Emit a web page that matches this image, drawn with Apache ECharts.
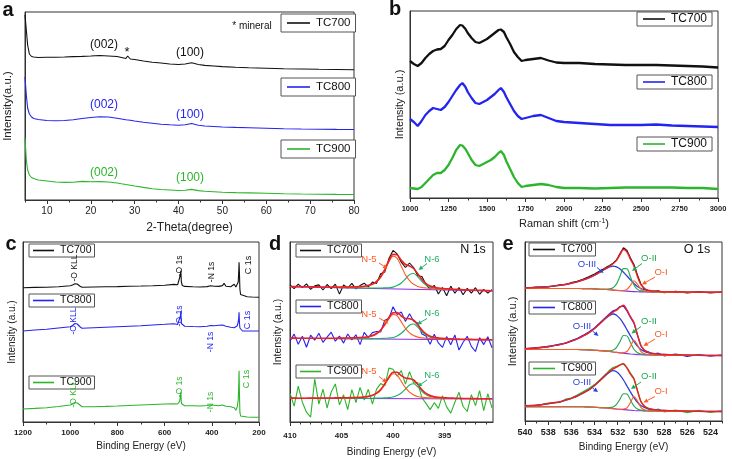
<!DOCTYPE html>
<html><head><meta charset="utf-8">
<script src="https://cdn.jsdelivr.net/npm/echarts@6/dist/echarts.min.js"></script>
<style>html,body{margin:0;padding:0;background:#fff}#c{width:732px;height:459px}</style>
</head><body><div id="c"></div>
<script>
const FONT = '"Liberation Sans", Arial, sans-serif';
const cBlack = '#111111', cBlue = '#2424f0', cGreen = '#2cb52c';
const cFit = '#ee2020', cOrange = '#ff5a1f', cTeal = '#1fae68', cOII = '#1fa84a', cOIII = '#2a3fd6', cBase = '#8a2be2';

// ---------- (a) XRD ----------
const xrdTheta = [5, 5.3, 5.6, 6, 6.5, 7, 8, 10, 12, 14, 16, 18, 20, 22, 24, 26, 27, 28, 28.4, 29, 30, 32, 34, 36, 38, 40, 41.5, 43, 44.5, 46, 48, 50, 53, 56, 60, 64, 68, 72, 76, 80];
const xrdTC700 = [185, 170, 155, 146, 143.5, 143, 142.5, 142.7, 142.8, 143, 143.4, 143.6, 144, 144.5, 144, 143.5, 142.5, 141.5, 144, 141, 140.5, 139, 137.8, 137, 136, 135.5, 136, 137.2, 135.5, 134.6, 134, 133.4, 132.8, 132.3, 131.8, 131.3, 131, 130.7, 130.5, 130.3];
const xrdTC800 = [123, 105, 92, 86, 83, 81.5, 80.5, 79.5, 79.3, 79.5, 80.2, 81.5, 82.5, 83.3, 83, 81.8, 81, 80.2, 80.4, 79.8, 79, 77.8, 76.8, 75.8, 75.2, 74.8, 75.3, 76.5, 74.8, 74, 73.5, 73, 72.6, 72.3, 71.8, 71.3, 71, 70.8, 70.6, 70.5];
const xrdTC900 = [62, 40, 30, 25, 22.5, 21.5, 20, 19, 18, 17.6, 17.8, 18.6, 18.2, 18.4, 18, 17, 16.2, 15.5, 15.3, 14.8, 14, 12.6, 11.3, 10.5, 10, 9.5, 9.8, 10.6, 9.4, 8.8, 8.3, 7.8, 7.4, 7.1, 6.7, 6.3, 6, 5.8, 5.6, 5.5];
const xrdTicks = [10, 20, 30, 40, 50, 60, 70, 80];
const xrdMinor = [5, 15, 25, 35, 45, 55, 65, 75];

// ---------- (b) Raman ----------
const ramanShift = [1000, 1025, 1050, 1075, 1100, 1125, 1150, 1175, 1200, 1225, 1250, 1275, 1300, 1325, 1340, 1360, 1375, 1400, 1425, 1450, 1475, 1500, 1525, 1550, 1575, 1590, 1610, 1625, 1650, 1675, 1700, 1725, 1750, 1800, 1850, 1900, 1950, 2000, 2100, 2200, 2300, 2400, 2500, 2600, 2700, 2800, 2900, 3000];
const ramanTC700 = [137, 134, 132, 135, 140, 144, 147, 148.5, 149, 152, 158, 163, 169, 173, 172.5, 169, 165, 160, 156, 155, 157, 159, 162, 165, 168, 168.5, 166, 161, 154, 146, 141, 137, 138, 139, 140, 137.5, 135.5, 135, 135, 134, 133.5, 133, 133, 133, 132.5, 132, 131.5, 130.5];
const ramanTC800 = [79, 76, 72, 77, 83, 87, 90, 89, 88, 91, 96, 102, 108, 113, 115, 111, 106, 100, 95, 94, 96, 98, 101, 104, 108, 110, 106, 101, 94, 87, 82, 79, 80, 82, 83, 80, 77, 76, 75, 74, 73, 73, 73, 73.5, 72.5, 72, 71.5, 71];
const ramanTC900 = [10, 9.5, 9, 11, 15, 19, 23, 25, 25, 28, 33, 40, 48, 53, 52.5, 49, 45, 38, 33, 32, 34, 36, 38, 41, 45, 47, 43, 37, 29, 21, 15, 11, 12, 13, 14, 13, 11, 10, 10, 9.5, 10, 10.5, 10.5, 10.5, 10.5, 10, 10, 9];
const ramanTicks = [1000, 1250, 1500, 1750, 2000, 2250, 2500, 2750, 3000];
const ramanMinor = [1125, 1375, 1625, 1875, 2125, 2375, 2625, 2875];

// ---------- (c) XPS survey ----------
const surveyBE = [1200, 1150, 1100, 1050, 1000, 990, 980, 975, 970, 960, 950, 900, 850, 800, 750, 700, 650, 600, 560, 545, 537, 533, 531, 529, 525, 515, 480, 450, 420, 405, 400, 390, 370, 355, 348, 340, 320, 305, 298, 292, 288, 286, 284.5, 283, 281, 278, 270, 250, 230, 200];
const surveyTC700 = [134.3, 134.6, 134.8, 135.2, 136.2, 137, 138.3, 139, 138, 136, 134.7, 135, 135.2, 135.4, 135.8, 136, 136.3, 136.7, 137.6, 137.2, 139, 147, 151.5, 140, 136.5, 135.6, 135.2, 135, 135.4, 136.2, 137, 135.8, 135.6, 136.4, 138.6, 135.8, 135.3, 137.7, 135, 134.2, 140, 150, 159.7, 150, 133, 127.5, 126, 125.3, 125, 124.7];
const surveyTC800 = [91, 92, 92.7, 94, 95.3, 96.5, 98.5, 99, 98, 95.5, 93.7, 94.3, 94.8, 95.3, 95.8, 96.3, 97, 97.7, 98.3, 97.5, 99.5, 106, 111, 98.5, 96.5, 95.8, 95.5, 95.3, 95.8, 96.5, 97, 96.2, 96.7, 97, 98.3, 95.7, 94.8, 94.3, 93, 96.3, 100, 104, 109.7, 100, 94, 92, 91, 91, 91, 91];
const surveyTC900 = [13, 13.6, 14.3, 15.5, 17, 18, 19.5, 20.3, 19, 17.2, 15.3, 15.3, 15.6, 16, 16.5, 17, 17.5, 18, 18.3, 18, 20.3, 25, 30.3, 18.5, 17.5, 16.3, 16.2, 16, 16.5, 17, 17.5, 16.8, 16.3, 17, 17.7, 15.8, 15.3, 14.3, 11.7, 15.3, 22, 35, 51.3, 30, 10, 6, 5.5, 5, 4.8, 4.7];
const surveyTicks = [1200, 1000, 800, 600, 400, 200];
const surveyMinor = [1100, 900, 700, 500, 300];

// ---------- (d) N 1s ----------
const n1sBE = [410.0, 409.6, 409.2, 408.8, 408.4, 408.0, 407.6, 407.2, 406.8, 406.4, 406.0, 405.6, 405.2, 404.8, 404.4, 404.0, 403.6, 403.2, 402.8, 402.4, 402.0, 401.6, 401.2, 400.8, 400.4, 400.0, 399.6, 399.2, 398.8, 398.4, 398.0, 397.6, 397.2, 396.8, 396.4, 396.0, 395.6, 395.2, 394.8, 394.4, 394.0, 393.6, 393.2, 392.8, 392.4, 392.0, 391.6, 391.2, 390.8, 390.4];
const n1sRaw700 = [137.0, 133.4, 137.9, 134.3, 138.2, 132.7, 136.1, 137.1, 132.0, 137.5, 133.4, 137.9, 127.9, 137.0, 134.0, 138.6, 133.2, 136.4, 138.8, 135.1, 139.9, 138.6, 148.2, 150.1, 163.4, 171.6, 168.1, 159.8, 154.5, 159.0, 154.5, 146.2, 145.5, 137.4, 133.0, 136.7, 128.0, 134.5, 126.2, 135.9, 128.7, 134.5, 127.2, 133.6, 128.9, 134.3, 127.7, 132.6, 128.9, 132.3];
const n1sFit700 = [135.5, 135.4, 135.4, 135.3, 135.2, 135.2, 135.1, 135.1, 135.0, 135.0, 134.9, 134.9, 134.9, 135.0, 135.0, 135.1, 135.2, 135.4, 135.8, 136.6, 137.9, 140.6, 145.2, 152.6, 161.4, 167.6, 167.1, 161.8, 157.5, 156.0, 153.5, 148.2, 142.5, 138.4, 136.0, 134.7, 134.0, 133.5, 133.2, 132.9, 132.7, 132.5, 132.2, 132.1, 131.9, 131.8, 131.7, 131.6, 131.4, 131.3];
const n1sRaw800 = [80.9, 87.9, 77.8, 85.8, 74.8, 86.8, 81.8, 88.8, 79.7, 84.8, 89.8, 80.8, 85.9, 78.9, 88.0, 82.1, 87.2, 77.4, 89.7, 84.3, 89.4, 90.5, 90.0, 101.7, 103.5, 115.3, 107.4, 110.0, 100.6, 108.3, 100.8, 99.1, 87.9, 86.1, 77.8, 87.7, 79.1, 74.6, 85.4, 77.2, 87.0, 71.9, 79.7, 85.7, 75.6, 70.5, 84.4, 77.4, 85.3, 74.2];
const n1sFit800 = [83.9, 83.9, 83.8, 83.8, 83.8, 83.8, 83.8, 83.8, 83.7, 83.8, 83.8, 83.8, 83.9, 83.9, 84.0, 84.1, 84.2, 84.4, 84.7, 85.3, 86.4, 88.5, 92.0, 97.7, 104.5, 109.3, 109.4, 106.0, 103.6, 103.3, 101.8, 97.1, 91.9, 88.1, 85.8, 84.7, 84.1, 83.6, 83.4, 83.2, 83.0, 82.9, 82.7, 82.7, 82.6, 82.5, 82.4, 82.4, 82.3, 82.2];
const n1sRaw900 = [28.9, 15.9, 35.8, 19.8, 9.8, 4.9, 42.9, 17.9, 32.9, 14.0, 30.0, 38.1, 17.1, 27.2, 12.3, 32.4, 19.5, 34.7, 22.0, 32.7, 17.8, 32.8, 38.4, 36.2, 53.9, 52.8, 45.8, 51.3, 37.9, 50.4, 39.0, 39.4, 24.3, 18.6, 12.4, 19.3, 13.7, 26.3, 15.1, 8.9, 19.8, 29.7, 15.5, 10.5, 27.4, 16.4, 31.3, 11.3, 28.3, 14.2];
const n1sFit900 = [23.9, 23.9, 23.8, 23.8, 23.8, 23.9, 23.9, 23.9, 23.9, 24.0, 24.0, 24.1, 24.1, 24.2, 24.3, 24.4, 24.5, 24.7, 25.0, 25.7, 26.8, 28.8, 32.4, 38.2, 44.9, 49.8, 49.8, 46.3, 43.9, 43.4, 42.0, 37.4, 32.3, 28.6, 26.4, 25.3, 24.7, 24.3, 24.1, 23.9, 23.8, 23.7, 23.5, 23.5, 23.4, 23.4, 23.3, 23.3, 23.3, 23.2];
const n1sCompBE = [405.2, 404.8, 404.4, 404.0, 403.6, 403.2, 402.8, 402.4, 402.0, 401.6, 401.2, 400.8, 400.4, 400.0, 399.6, 399.2, 398.8, 398.4, 398.0, 397.6, 397.2, 396.8, 396.4, 396.0, 395.6, 395.2, 394.8];
const n1sN5_700 = [134.8, 134.8, 134.9, 134.9, 135.0, 135.2, 135.5, 136.3, 137.5, 140.1, 144.6, 151.8, 160.3, 165.8, 163.7, 155.7, 147.3, 141.4, 137.7, 135.6, 134.5, 134.0, 133.6, 133.2, 133.0, 132.8, 132.6];
const n1sN6_700 = [134.4, 134.3, 134.2, 134.2, 134.1, 134.0, 134.0, 134.0, 133.9, 134.0, 134.0, 134.1, 134.3, 134.9, 136.4, 139.0, 143.0, 147.4, 148.5, 145.2, 140.5, 136.9, 134.7, 133.7, 133.1, 132.8, 132.5];
const n1sN5_800 = [83.7, 83.8, 83.8, 83.9, 84.0, 84.2, 84.4, 85.0, 86.0, 88.0, 91.4, 96.9, 103.4, 107.6, 106.1, 100.1, 93.7, 89.2, 86.5, 84.9, 84.1, 83.8, 83.5, 83.3, 83.2, 83.0, 82.9];
const n1sN6_800 = [83.4, 83.4, 83.4, 83.4, 83.3, 83.3, 83.4, 83.3, 83.4, 83.5, 83.5, 83.7, 84.0, 84.5, 86.1, 88.7, 92.6, 96.8, 98.0, 94.8, 90.4, 86.9, 84.8, 83.9, 83.4, 83.1, 82.9];
const n1sN5_900 = [24.0, 24.1, 24.1, 24.2, 24.3, 24.5, 24.8, 25.4, 26.4, 28.4, 31.9, 37.4, 43.9, 48.2, 46.6, 40.6, 34.3, 29.8, 27.1, 25.5, 24.7, 24.4, 24.1, 24.0, 23.8, 23.7, 23.6];
const n1sN6_900 = [23.7, 23.6, 23.7, 23.7, 23.7, 23.7, 23.7, 23.7, 23.8, 23.9, 24.0, 24.1, 24.4, 25.0, 26.5, 29.0, 32.9, 37.0, 38.2, 35.1, 30.7, 27.4, 25.4, 24.6, 24.1, 23.8, 23.6];
const n1sBaseBE = [410, 390.3];
const n1sBase700 = [135.3, 131.0];
const n1sBase800 = [83.7, 82.0];
const n1sBase900 = [23.7, 23.0];
const n1sTicks = [410, 405, 400, 395];
const n1sMinor = [409, 408, 407, 406, 404, 403, 402, 401, 399, 398, 397, 396, 394, 393, 392, 391];

// ---------- (e) O 1s ----------
const o1sBE = [540, 539, 538, 537, 536.5, 536, 535.5, 535, 534.5, 534, 533.5, 533, 532.7, 532.4, 532.1, 531.8, 531.5, 531.2, 530.9, 530.6, 530.3, 530, 529.7, 529.4, 529, 528.5, 528, 527, 526, 525, 524, 523];
const o1sRaw700 = [132.8, 133.9, 134.0, 136.1, 136.4, 138.3, 139.6, 141.8, 144.3, 147.0, 150.3, 153.6, 155.4, 157.8, 161.0, 167.5, 173.3, 170.5, 163.0, 156.5, 146.0, 137.0, 131.8, 130.5, 129.2, 130.1, 128.4, 129.6, 128.1, 129.4, 128.2, 129.0];
const o1sFit700 = [133.0, 133.5, 134.4, 135.6, 136.6, 137.8, 139.2, 141.0, 143.1, 145.8, 149.1, 152.9, 155.0, 157.3, 160.6, 166.5, 171.5, 169.0, 161.6, 155.0, 144.6, 136.3, 132.7, 130.9, 130.1, 129.6, 129.3, 129.0, 128.9, 128.8, 128.7, 128.7];
const o1sIII700 = [133.0, 133.5, 134.4, 135.6, 136.6, 137.8, 139.2, 141.0, 143.1, 145.8, 149.1, 152.4, 154.0, 154.9, 154.1, 152.0, 148.8, 145.0, 141.1, 137.6, 134.5, 132.5, 131.3, 130.4, 130.0, 129.6, 129.3, 129.0, 128.9, 128.75, 128.7, 128.7];
const o1sII700 = [132.5, 132.5, 132.5, 132.5, 132.5, 132.5, 132.5, 132.4, 132.3, 132.1, 131.8, 132.0, 132.2, 133.3, 137.1, 144.8, 152.4, 152.2, 144.0, 135.9, 131.6, 130.1, 129.6, 129.2, 129.0, 128.95, 128.9, 128.85, 128.8, 128.75, 128.7, 128.7];
const o1sI700 = [132.5, 132.5, 132.5, 132.5, 132.5, 132.5, 132.5, 132.4, 132.3, 132.1, 131.8, 131.5, 131.2, 130.9, 130.6, 130.5, 130.5, 131.6, 135.7, 140.3, 136.9, 131.9, 130.0, 129.3, 129.1, 128.95, 128.9, 128.85, 128.8, 128.75, 128.7, 128.7];
const o1sBase700 = [132.5, 132.5, 132.5, 132.5, 132.5, 132.5, 132.5, 132.4, 132.3, 132.1, 131.8, 131.5, 131.2, 130.9, 130.6, 130.4, 130.1, 129.9, 129.6, 129.4, 129.2, 129.1, 129.1, 129.0, 129.0, 128.95, 128.9, 128.85, 128.8, 128.75, 128.7, 128.7];
const o1sRaw800 = [72.0, 73.4, 74.1, 76.9, 77.6, 80.4, 82.5, 85.6, 88.9, 93.1, 98.5, 104.0, 107.3, 110.2, 111.5, 114.5, 114.8, 110.0, 103.5, 97.8, 86.0, 75.0, 70.2, 69.5, 66.8, 67.8, 65.2, 67.0, 64.6, 66.5, 64.9, 66.0];
const o1sFit800 = [72.3, 73.0, 74.5, 76.4, 78.0, 79.9, 82.1, 85.0, 88.2, 92.5, 97.8, 103.4, 106.4, 108.9, 110.9, 113.8, 115.7, 111.1, 104.3, 98.6, 86.5, 75.8, 71.0, 68.9, 67.6, 66.9, 66.5, 66.1, 65.85, 65.6, 65.55, 65.5];
const o1sIII800 = [72.3, 73.0, 74.5, 76.4, 78.0, 79.9, 82.1, 85.0, 88.2, 92.5, 97.8, 103.0, 105.6, 107.0, 105.8, 102.3, 97.4, 91.3, 85.2, 79.6, 74.8, 71.5, 69.5, 68.3, 67.5, 66.9, 66.5, 66.1, 65.85, 65.6, 65.55, 65.5];
const o1sII800 = [71.5, 71.5, 71.5, 71.5, 71.5, 71.5, 71.5, 71.3, 71.1, 70.8, 70.4, 70.3, 70.3, 70.9, 73.7, 79.5, 85.5, 85.1, 78.4, 71.8, 68.3, 67.0, 66.5, 66.2, 66.0, 65.95, 65.9, 65.8, 65.7, 65.6, 65.55, 65.5];
const o1sI800 = [71.5, 71.5, 71.5, 71.5, 71.5, 71.5, 71.5, 71.3, 71.1, 70.8, 70.4, 69.9, 69.5, 69.0, 68.6, 68.2, 68.4, 69.5, 74.7, 80.6, 76.2, 69.7, 67.2, 66.5, 66.1, 65.95, 65.9, 65.8, 65.7, 65.6, 65.55, 65.5];
const o1sBase800 = [71.5, 71.5, 71.5, 71.5, 71.5, 71.5, 71.5, 71.3, 71.1, 70.8, 70.4, 69.9, 69.5, 69.0, 68.6, 68.1, 67.8, 67.4, 67.0, 66.7, 66.4, 66.2, 66.1, 66.05, 66.0, 65.95, 65.9, 65.8, 65.7, 65.6, 65.55, 65.5];
const o1sRaw900 = [15.6, 15.2, 17.9, 18.6, 21.8, 22.9, 26.0, 29.2, 32.5, 36.4, 41.5, 47.2, 50.8, 53.5, 54.6, 56.0, 56.8, 53.4, 48.0, 42.6, 31.0, 19.0, 14.0, 12.0, 10.4, 12.0, 9.2, 11.0, 8.4, 10.7, 8.6, 10.2];
const o1sFit900 = [15.1, 15.8, 17.3, 19.2, 20.8, 22.7, 24.9, 27.9, 31.1, 35.5, 40.8, 46.4, 49.5, 52.1, 53.8, 56.2, 57.4, 52.9, 46.9, 41.9, 30.2, 19.7, 14.9, 12.8, 11.6, 10.9, 10.5, 10.1, 9.85, 9.6, 9.55, 9.5];
const o1sIII900 = [15.1, 15.8, 17.3, 19.2, 20.8, 22.7, 24.9, 27.9, 31.1, 35.5, 40.8, 46.1, 48.8, 50.4, 49.2, 45.9, 41.0, 35.0, 29.0, 23.4, 18.7, 15.5, 13.5, 12.4, 11.5, 10.9, 10.5, 10.1, 9.85, 9.6, 9.55, 9.5];
const o1sII900 = [14.3, 14.3, 14.3, 14.3, 14.3, 14.3, 14.3, 14.2, 14.0, 13.8, 13.4, 13.3, 13.4, 14.1, 16.6, 21.9, 27.2, 26.9, 21.0, 15.1, 12.0, 10.9, 10.4, 10.2, 10.0, 9.95, 9.9, 9.8, 9.7, 9.6, 9.55, 9.5];
const o1sI900 = [14.3, 14.3, 14.3, 14.3, 14.3, 14.3, 14.3, 14.2, 14.0, 13.8, 13.4, 13.0, 12.7, 12.4, 12.0, 11.8, 12.0, 13.2, 18.5, 24.4, 20.1, 13.7, 11.2, 10.5, 10.1, 9.95, 9.9, 9.8, 9.7, 9.6, 9.55, 9.5];
const o1sBase900 = [14.3, 14.3, 14.3, 14.3, 14.3, 14.3, 14.3, 14.2, 14.0, 13.8, 13.4, 13.0, 12.7, 12.4, 12.0, 11.7, 11.4, 11.1, 10.8, 10.5, 10.3, 10.2, 10.1, 10.05, 10.0, 9.95, 9.9, 9.8, 9.7, 9.6, 9.55, 9.5];
const o1sTicks = [540, 538, 536, 534, 532, 530, 528, 526, 524];
const o1sMinor = [539, 537, 535, 533, 531, 529, 527, 525, 523];

// ---------- layout ----------
const panels = [
  {grid:{left:25, top:12, width:329, height:188}, min:5, max:80, inv:false, H:188, ticks:xrdTicks, minor:xrdMinor,
   lab:{fontSize:10, fontWeight:'normal', margin:6}, xname:'2-Theta(degree)', xgap:22, xnf:12, yname:'Intensity(a.u.)', ygap:11, ynf:11.5},
  {grid:{left:410, top:11, width:308, height:187}, min:1000, max:3000, inv:false, H:187, ticks:ramanTicks, minor:ramanMinor,
   lab:{fontSize:7.5, fontWeight:'bold', margin:7}, xname:'Raman shift (cm{s|-1})', xgap:20, xnf:11, yname:'Intensity (a.u.)', ygap:4.5, ynf:11},
  {grid:{left:23, top:242, width:236, height:180}, min:200, max:1200, inv:true, H:180, ticks:surveyTicks, minor:surveyMinor,
   lab:{fontSize:8, fontWeight:'bold', margin:7}, xname:'Binding Energy (eV)', xgap:19.5, xnf:10, yname:'Intensity (a.u.)', ygap:6, ynf:10},
  {grid:{left:290, top:242, width:203, height:180}, min:390.3, max:410, inv:true, H:180, ticks:n1sTicks, minor:n1sMinor,
   lab:{fontSize:8, fontWeight:'bold', margin:10}, xname:'Binding Energy (eV)', xgap:25, xnf:10, yname:'Intensity (a.u.)', ygap:6.5, ynf:10.5},
  {grid:{left:525, top:242, width:197, height:179}, min:523, max:540, inv:true, H:179, ticks:o1sTicks, minor:o1sMinor,
   lab:{fontSize:9, fontWeight:'bold', margin:7}, xname:'Binding Energy (eV)', xgap:21.5, xnf:10, yname:'Intensity (a.u.)', ygap:6.5, ynf:11}
];

const AX = '#333333';
const grids = [], xAxes = [], yAxes = [];
panels.forEach((p, i) => {
  grids.push(Object.assign({show:true, borderColor:AX, borderWidth:1, backgroundColor:'transparent'}, p.grid));
  xAxes.push({type:'value', gridIndex:i, min:p.min, max:p.max, inverse:p.inv, position:'bottom',
    axisLine:{show:true, onZero:false, lineStyle:{color:AX, width:1}},
    axisTick:{show:true, customValues:p.ticks, length:4, lineStyle:{color:AX, width:1}},
    axisLabel:{customValues:p.ticks, formatter:(v) => String(v), fontSize:p.lab.fontSize, fontWeight:p.lab.fontWeight, margin:p.lab.margin, color:'#222', fontFamily:FONT},
    splitLine:{show:false},
    name:p.xname, nameLocation:'middle', nameGap:p.xgap,
    nameTextStyle:{fontSize:p.xnf, color:'#222', fontFamily:FONT, rich:{s:{fontSize:7, verticalAlign:'top', padding:[0,0,5,0], fontFamily:FONT, color:'#222'}}}
  });
  xAxes.push({type:'value', gridIndex:i, min:p.min, max:p.max, inverse:p.inv, position:'bottom',
    axisLine:{show:false}, axisLabel:{show:false}, splitLine:{show:false},
    axisTick:{show:true, customValues:p.minor, length:2.5, lineStyle:{color:AX, width:1}}
  });
  yAxes.push({type:'value', gridIndex:i, min:0, max:p.H,
    axisLine:{show:true, onZero:false, lineStyle:{color:AX, width:1}},
    axisTick:{show:false}, axisLabel:{show:false}, splitLine:{show:false},
    name:p.yname, nameLocation:'middle', nameGap:p.ygap,
    nameTextStyle:{fontSize:p.ynf, color:'#222', fontFamily:FONT}
  });
});

function pairs(xs, ys){ return xs.map((x, i) => [x, ys[i]]); }
function ser(name, p, xs, ys, color, w, z, smooth){
  return {type:'line', name:name, xAxisIndex:2*p, yAxisIndex:p, data:pairs(xs, ys), symbol:'none', showSymbol:false,
    smooth:smooth || false, lineStyle:{color:color, width:w}, itemStyle:{color:color}, z:z || 2, silent:true, animation:false};
}

const series = [
  ser('TC700', 0, xrdTheta, xrdTC700, cBlack, 1.1),
  ser('TC800', 0, xrdTheta, xrdTC800, cBlue, 1.1),
  ser('TC900', 0, xrdTheta, xrdTC900, cGreen, 1.1),
  ser('TC700', 1, ramanShift, ramanTC700, cBlack, 2.3),
  ser('TC800', 1, ramanShift, ramanTC800, cBlue, 2.3),
  ser('TC900', 1, ramanShift, ramanTC900, cGreen, 2.3),
  ser('TC700', 2, surveyBE, surveyTC700, cBlack, 1.1),
  ser('TC800', 2, surveyBE, surveyTC800, cBlue, 1.1),
  ser('TC900', 2, surveyBE, surveyTC900, cGreen, 1.1),
  // N 1s
  ser('TC700', 3, n1sBE, n1sRaw700, cBlack, 1.1),
  ser('TC800', 3, n1sBE, n1sRaw800, cBlue, 1.1),
  ser('TC900', 3, n1sBE, n1sRaw900, cGreen, 1.1),
  ser('base700d', 3, n1sBaseBE, n1sBase700, cBase, 1.1, 3),
  ser('base800d', 3, n1sBaseBE, n1sBase800, cBase, 1.1, 3),
  ser('base900d', 3, n1sBaseBE, n1sBase900, cBase, 1.1, 3),
  ser('N6_700', 3, n1sCompBE, n1sN6_700, cTeal, 1.1, 4, 0.3),
  ser('N6_800', 3, n1sCompBE, n1sN6_800, cTeal, 1.1, 4, 0.3),
  ser('N6_900', 3, n1sCompBE, n1sN6_900, cTeal, 1.1, 4, 0.3),
  ser('N5_700', 3, n1sCompBE, n1sN5_700, cOrange, 1.1, 4, 0.3),
  ser('N5_800', 3, n1sCompBE, n1sN5_800, cOrange, 1.1, 4, 0.3),
  ser('N5_900', 3, n1sCompBE, n1sN5_900, cOrange, 1.1, 4, 0.3),
  ser('fit700d', 3, n1sBE, n1sFit700, cFit, 1.6, 5, 0.3),
  ser('fit800d', 3, n1sBE, n1sFit800, cFit, 1.6, 5, 0.3),
  ser('fit900d', 3, n1sBE, n1sFit900, cFit, 1.6, 5, 0.3),
  // O 1s
  ser('TC700', 4, o1sBE, o1sRaw700, cBlack, 1.2),
  ser('TC800', 4, o1sBE, o1sRaw800, cBlue, 1.2),
  ser('TC900', 4, o1sBE, o1sRaw900, cGreen, 1.2),
  ser('base700e', 4, o1sBE, o1sBase700, cBase, 1.1, 3),
  ser('base800e', 4, o1sBE, o1sBase800, cBase, 1.1, 3),
  ser('base900e', 4, o1sBE, o1sBase900, cBase, 1.1, 3),
  ser('OIII700', 4, o1sBE, o1sIII700, cOIII, 1.3, 4, 0.3),
  ser('OIII800', 4, o1sBE, o1sIII800, cOIII, 1.3, 4, 0.3),
  ser('OIII900', 4, o1sBE, o1sIII900, cOIII, 1.3, 4, 0.3),
  ser('OII700', 4, o1sBE, o1sII700, cOII, 1.1, 4, 0.3),
  ser('OII800', 4, o1sBE, o1sII800, cOII, 1.1, 4, 0.3),
  ser('OII900', 4, o1sBE, o1sII900, cOII, 1.1, 4, 0.3),
  ser('OI700', 4, o1sBE, o1sI700, cOrange, 1.1, 4, 0.3),
  ser('OI800', 4, o1sBE, o1sI800, cOrange, 1.1, 4, 0.3),
  ser('OI900', 4, o1sBE, o1sI900, cOrange, 1.1, 4, 0.3),
  ser('fit700e', 4, o1sBE, o1sFit700, cFit, 1.4, 5, 0.3),
  ser('fit800e', 4, o1sBE, o1sFit800, cFit, 1.4, 5, 0.3),
  ser('fit900e', 4, o1sBE, o1sFit900, cFit, 1.4, 5, 0.3)
];

function lg(name, left, top, fs, iw, pad){
  return {show:true, selectedMode:false, data:[name], left:left, top:top, icon:'rect', itemWidth:iw, itemHeight:1.6, itemGap:0,
    padding:pad, borderColor:'#555', borderWidth:1, backgroundColor:'#fff', z:50,
    textStyle:{fontSize:fs, color:'#111', fontFamily:FONT, padding:[0,0,0,1]}};
}
const legends = [];
[['TC700',14],['TC800',78],['TC900',140]].forEach(d => legends.push(lg(d[0], 281, d[1], 11.5, 23, [3,5,3,6])));
[['TC700',12],['TC800',75],['TC900',137]].forEach(d => legends.push(lg(d[0], 637, d[1], 12, 22, [1,5,1,6])));
[['TC700',244],['TC800',294],['TC900',376]].forEach(d => legends.push(lg(d[0], 29, d[1], 10.5, 21, [1,3,1,4])));
[['TC700',244],['TC800',300],['TC900',365]].forEach(d => legends.push(lg(d[0], 296, d[1], 10.5, 21, [1,3,1,4])));
[['TC700',243],['TC800',301],['TC900',362]].forEach(d => legends.push(lg(d[0], 529, d[1], 10.5, 22, [1,3,1,4])));

function txt(text, x, y, color, font, rot){
  return {type:'text', x:x, y:y, rotation:rot || 0, silent:true, z:100,
    style:{text:text, fill:color, font:font, align:'center', verticalAlign:'middle', textAlign:'center', textVerticalAlign:'middle'}};
}
function arrow(x1, y1, x2, y2, color){
  const a = Math.atan2(y2 - y1, x2 - x1), L = 4.5, W = 2.2;
  const bx = x2 - L * Math.cos(a), by = y2 - L * Math.sin(a);
  const px = -Math.sin(a) * W, py = Math.cos(a) * W;
  return [
    {type:'line', silent:true, z:100, shape:{x1:x1, y1:y1, x2:bx, y2:by}, style:{stroke:color, lineWidth:1}},
    {type:'polygon', silent:true, z:100, shape:{points:[[x2, y2], [bx + px, by + py], [bx - px, by - py]]}, style:{fill:color}}
  ];
}
const F = (s, w) => (w || '') + ' ' + s + 'px ' + FONT;
const R = Math.PI / 2;
let graphic = [
  txt('a', 8, 10, '#111', F(20, 'bold')), txt('b', 395, 9, '#111', F(20, 'bold')),
  txt('c', 11, 244, '#111', F(20, 'bold')), txt('d', 275, 244, '#111', F(20, 'bold')), txt('e', 508, 244, '#111', F(20, 'bold')),
  // panel a annotations
  txt('(002)', 104, 45, cBlack, F(12)), txt('*', 127, 52, cBlack, F(13)), txt('(100)', 190, 53, cBlack, F(12)),
  txt('* mineral', 252, 26, cBlack, F(10)),
  txt('(002)', 104, 104.5, cBlue, F(12)), txt('(100)', 190, 114.5, cBlue, F(12)),
  txt('(002)', 104, 173, cGreen, F(12)), txt('(100)', 190, 177.5, cGreen, F(12)),
  // panel c peak labels
  txt('-O KLL', 75, 268, cBlack, F(8.5), R), txt('-O 1s', 180, 266, cBlack, F(8.5), R), txt('-N 1s', 212, 272, cBlack, F(8.5), R), txt('C 1s', 249, 265, cBlack, F(9), R),
  txt('-O KLL', 74, 321, cBlue, F(8.5), R), txt('-O 1s', 180, 316, cBlue, F(8.5), R), txt('-N 1s', 211, 342, cBlue, F(8.5), R), txt('C 1s', 248, 320, cBlue, F(9), R),
  txt('-O KLL', 74, 394, cGreen, F(8.5), R), txt('-O 1s', 180, 387, cGreen, F(8.5), R), txt('-N 1s', 211, 402, cGreen, F(8.5), R), txt('C 1s', 247, 379, cGreen, F(9), R),
  // panel d
  txt('N 1s', 473, 250, '#111', F(12.5)),
  txt('N-5', 369, 259, cOrange, F(9.5)), txt('N-6', 432, 259, cTeal, F(9.5)),
  txt('N-5', 369, 314, cOrange, F(9.5)), txt('N-6', 432, 313, cTeal, F(9.5)),
  txt('N-5', 369, 371, cOrange, F(9.5)), txt('N-6', 432, 375, cTeal, F(9.5)),
  // panel e
  txt('O 1s', 697, 250, '#111', F(12.5)),
  txt('O-III', 587, 264, cOIII, F(9.5)), txt('O-II', 649, 258, cOII, F(9.5)), txt('O-I', 661, 272, cOrange, F(9.5)),
  txt('O-III', 582, 326, cOIII, F(9.5)), txt('O-II', 649, 321, cOII, F(9.5)), txt('O-I', 661, 334, cOrange, F(9.5)),
  txt('O-III', 582, 382.5, cOIII, F(9.5)), txt('O-II', 649, 376, cOII, F(9.5)), txt('O-I', 661, 391, cOrange, F(9.5))
];
graphic = graphic.concat(
  arrow(379, 263, 387.5, 268.5, cOrange), arrow(427, 263.5, 418.5, 270, cTeal),
  arrow(379, 318, 388.5, 323.5, cOrange), arrow(427, 318.5, 417, 324.5, cTeal),
  arrow(379, 376.5, 387, 382.5, cOrange), arrow(427, 380, 417.5, 386.5, cTeal),
  arrow(597, 267.5, 603.5, 273, cOIII), arrow(642, 263.5, 632, 271, cOII), arrow(655, 277, 642, 284.5, cOrange),
  arrow(592.5, 331, 598.5, 336, cOIII), arrow(641, 326.5, 631.5, 333.5, cOII), arrow(655, 339, 643.5, 346, cOrange),
  arrow(592.5, 388, 598, 392, cOIII), arrow(641, 382, 631, 389, cOII), arrow(655, 396.5, 643.5, 402.5, cOrange)
);

const chart = echarts.init(document.getElementById('c'), null, {renderer:'canvas'});
chart.setOption({
  backgroundColor:'#ffffff',
  animation:false,
  textStyle:{fontFamily:FONT},
  grid:grids, xAxis:xAxes, yAxis:yAxes,
  legend:legends,
  series:series,
  graphic:graphic
});
</script></body></html>
